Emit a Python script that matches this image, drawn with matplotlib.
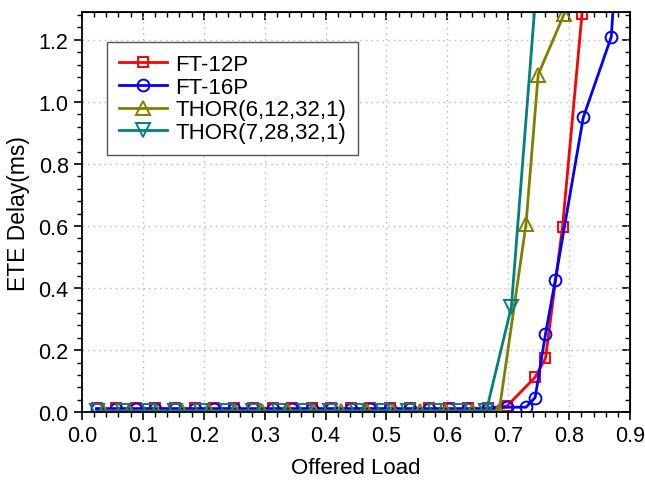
import matplotlib
matplotlib.use("Agg")
import matplotlib.pyplot as plt
from matplotlib.ticker import MultipleLocator

plt.rcParams['font.family'] = ['Liberation Sans', 'DejaVu Sans']

# FT-12P
ft12_x = [0.024, 0.056, 0.088, 0.120, 0.152, 0.185, 0.217, 0.249, 0.281, 0.313, 0.345,
          0.377, 0.409, 0.441, 0.473, 0.506, 0.538, 0.570, 0.602, 0.634, 0.666, 0.698,
          0.744, 0.761, 0.789, 0.821]
ft12_y = [0.012, 0.012, 0.012, 0.012, 0.012, 0.012, 0.012, 0.012, 0.012, 0.012, 0.012,
          0.012, 0.012, 0.012, 0.012, 0.012, 0.012, 0.012, 0.012, 0.012, 0.014, 0.02,
          0.113, 0.174, 0.598, 1.285]

# FT-16P
ft16_x = [0.024, 0.056, 0.088, 0.120, 0.152, 0.185, 0.217, 0.249, 0.281, 0.313, 0.345,
          0.377, 0.409, 0.441, 0.473, 0.506, 0.538, 0.570, 0.602, 0.634, 0.666, 0.698,
          0.729, 0.744, 0.761, 0.777, 0.823, 0.869, 0.885]
ft16_y = [0.010, 0.010, 0.010, 0.010, 0.010, 0.010, 0.010, 0.010, 0.010, 0.010, 0.010,
          0.010, 0.010, 0.010, 0.010, 0.010, 0.010, 0.010, 0.010, 0.010, 0.010, 0.016,
          0.016, 0.047, 0.252, 0.425, 0.950, 1.210, 1.690]

# THOR(6,12,32,1)
thor6_x = [0.035, 0.078, 0.122, 0.165, 0.208, 0.252, 0.295, 0.338, 0.381, 0.425, 0.468,
           0.511, 0.555, 0.598, 0.641, 0.685, 0.729, 0.749, 0.792]
thor6_y = [0.004, 0.004, 0.004, 0.004, 0.004, 0.004, 0.004, 0.004, 0.004, 0.004, 0.004,
           0.004, 0.004, 0.004, 0.004, 0.004, 0.606, 1.088, 1.285]

# THOR(7,28,32,1)
thor7_x = [0.025, 0.068, 0.110, 0.153, 0.195, 0.238, 0.281, 0.323, 0.366, 0.408, 0.451,
           0.494, 0.536, 0.579, 0.621, 0.664, 0.705, 0.750]
thor7_y = [0.003, 0.003, 0.003, 0.003, 0.003, 0.003, 0.003, 0.003, 0.003, 0.003, 0.003,
           0.003, 0.003, 0.003, 0.003, 0.005, 0.340, 1.470]

fig = plt.figure(figsize=(6.45, 4.81), dpi=100)
ax = fig.add_axes([0.127, 0.141, 0.850, 0.832])

line_kw = dict(lw=2.0, mfc='none', mew=1.4)
ax.plot(ft12_x, ft12_y, color='#ff0000', marker='s', ms=7.5, label='FT-12P', **line_kw)
ax.plot(ft16_x, ft16_y, color='#0000ff', marker='o', ms=8.5, label='FT-16P', **line_kw)
ax.plot(thor6_x, thor6_y, color='#808000', marker='^', ms=10, label='THOR(6,12,32,1)', **line_kw)
ax.plot(thor7_x, thor7_y, color='#008080', marker='v', ms=10, label='THOR(7,28,32,1)', **line_kw)

ax.set_xlim(0, 0.9)
ax.set_ylim(0, 1.29)
ax.xaxis.set_major_locator(MultipleLocator(0.1))
ax.xaxis.set_minor_locator(MultipleLocator(0.02))
ax.yaxis.set_major_locator(MultipleLocator(0.2))
ax.yaxis.set_minor_locator(MultipleLocator(0.04))
ax.xaxis.set_major_formatter(plt.FormatStrFormatter('%.1f'))
ax.yaxis.set_major_formatter(plt.FormatStrFormatter('%.1f'))

ax.grid(True, which='major', color='#b8b8b8', linestyle=(0, (1, 3)), lw=1)
ax.tick_params(which='major', direction='out', length=6, width=1.2, labelsize=15.5)
ax.tick_params(which='minor', direction='out', length=3.5, width=1.0)
for s in ax.spines.values():
    s.set_linewidth(1.3)

# inward ticks on top and right
top = ax.secondary_xaxis('top')
top.xaxis.set_major_locator(MultipleLocator(0.1))
top.xaxis.set_minor_locator(MultipleLocator(0.02))
top.tick_params(which='major', direction='in', length=6, width=1.2, labeltop=False)
top.tick_params(which='minor', direction='in', length=3.5, width=1.0)
right = ax.secondary_yaxis('right')
right.yaxis.set_major_locator(MultipleLocator(0.2))
right.yaxis.set_minor_locator(MultipleLocator(0.04))
right.tick_params(which='major', direction='in', length=6, width=1.2, labelright=False)
right.tick_params(which='minor', direction='in', length=3.5, width=1.0)

ax.set_xlabel('Offered Load', fontsize=16, labelpad=8)
ax.set_ylabel('ETE Delay(ms)', fontsize=16.5, labelpad=6)

leg = ax.legend(loc='upper left', bbox_to_anchor=(0.046, 0.925), fontsize=16,
                handlelength=2.15, fancybox=False, edgecolor='#555555',
                framealpha=1, borderpad=0.55, labelspacing=0.07, handletextpad=0.36,
                borderaxespad=0)
leg.get_frame().set_linewidth(1.0)

fig.savefig('out.png', dpi=100)
